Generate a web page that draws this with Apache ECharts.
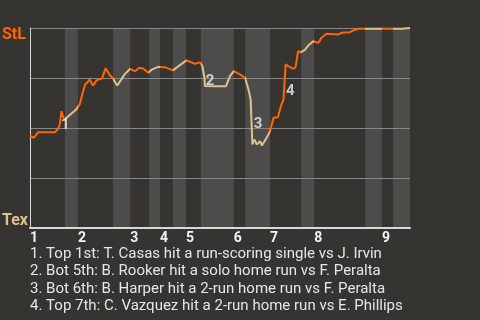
<!DOCTYPE html>
<html><head><meta charset="utf-8">
<script src="https://cdn.jsdelivr.net/npm/echarts@6/dist/echarts.min.js"></script>
<style>html,body{margin:0;padding:0;background:#363431;}#c{width:480px;height:320px;}</style>
</head><body><div id="c"></div>
<script>
// Half-inning start positions (play index), last value = end of game
const halfInningStarts = [0, 8.1, 11.1, 19.2, 23.2, 27.6, 30.1, 33.1, 36.1, 39.6, 47.2, 49.8, 55.6, 62.8, 65.8, 77.6, 81.5, 84.1, 88];
const inningLabels = ['1','2','3','4','5','6','7','8','9'];
// Win probability for StL (%) at each play
const playIndex = [0,0.9,1.9,5.8,6.5,6.9,7.3,7.6,8.0,
  10.7,11.1,
  11.5,12.3,12.8,13.4,13.8,14.6,15.4,15.8,16.7,17.5,18.5,19.2,
  20.2,21.9,23.2,
  24.3,25.3,26.2,27.4,
  28.2,29.7,
  30.1,31.5,33.1,
  36.2,
  38.2,38.6,39.4,
  39.9,40.4,40.5,42.5,45.4,46.3,47.2,
  48.6,49.8,
  50.6,51.1,51.5,52.0,52.5,53.3,53.7,54.8,55.6,
  56.4,57.4,58.1,58.7,59.2,59.8,61.0,61.5,62.1,62.8,
  63.7,64.5,65.6,
  66.8,67.5,68.7,71.4,72.2,74.1,74.9,75.5,76.0,77.6,
  81.5,84.1,86.1,86.1,88];
const winProb = [46.2,45.1,47.9,47.9,49.6,51.8,58.4,55.9,54.2,
  59.2,60.1,
  61.8,68.4,71.8,73.1,74.2,71.2,73.8,74.8,74.8,79.8,76.4,74.8,
  71.2,76.8,79.6,
  78.4,80.1,79.8,77.6,
  79.2,80.6,
  81.5,80.2,78.8,
  83.8,
  82.1,82.6,82.8,
  81.0,75.1,71.0,70.9,70.9,75.9,78.4,
  76.8,75.1,
  69.2,64.2,41.8,44.2,41.8,43.4,41.2,45.1,48.4,
  55.1,55.4,60.9,64.2,81.8,80.9,79.6,80.4,88.4,87.9,
  89.2,91.4,93.4,
  92.6,95.1,97.1,96.8,97.6,97.9,98.8,99.2,99.6,99.6,
  99.6,99.6,99.6,100,100];
// Key event annotations
const eventNumbers = ['1','2','3','4'];
const eventX = [8.2, 41.7, 52.8, 60.3];
const eventY = [51.5, 73.5, 52.0, 68.5];
const eventTexts = [
  '1. Top 1st: T. Casas hit a run-scoring single vs J. Irvin',
  '2. Bot 5th: B. Rooker hit a solo home run vs F. Peralta',
  '3. Bot 6th: B. Harper hit a 2-run home run vs F. Peralta',
  '4. Top 7th: C. Vazquez hit a 2-run home run vs E. Phillips'
];
const teamTop = 'StL', teamBottom = 'Tex';

const ORANGE = '#ff6600', TAN = '#dcc28f', BAND = '#4d4c4a', BG = '#363431';

const lineData = playIndex.map((x, i) => [x, winProb[i]]);
const pieces = [];
const bands = [];
for (let i = 0; i < halfInningStarts.length - 1; i++) {
  pieces.push({gte: halfInningStarts[i], lt: halfInningStarts[i+1] + (i === halfInningStarts.length - 2 ? 1 : 0), color: i % 2 === 0 ? ORANGE : TAN});
  if (i % 2 === 1) bands.push([halfInningStarts[i], halfInningStarts[i+1]]);
}
const inningStarts = halfInningStarts.filter((v, i) => i % 2 === 0 && i < halfInningStarts.length - 1);

const chart = echarts.init(document.getElementById('c'));
chart.setOption({
  backgroundColor: BG,
  animation: false,
  textStyle: {fontFamily: 'Roboto'},
  grid: {left: 30, right: 70, top: 28, bottom: 92},
  xAxis: {
    type: 'value', min: 0, max: 88, z: 2,
    axisLine: {show: true, lineStyle: {color: '#d8d8d8', width: 2}},
    axisTick: {show: false},
    splitLine: {show: false},
    axisLabel: {
      customValues: inningStarts,
      formatter: v => inningLabels[inningStarts.indexOf(v)] || '',
      align: 'left', margin: 3,
      color: '#f2f2f2', fontSize: 14, fontWeight: 'bold', fontFamily: 'Roboto'
    }
  },
  yAxis: {
    type: 'value', min: 0, max: 100, interval: 25, z: 2,
    axisLine: {show: true, lineStyle: {color: '#d8d8d8', width: 1}},
    axisTick: {show: false},
    axisLabel: {show: false},
    splitLine: {show: true, lineStyle: {color: '#8a8886', width: 1}}
  },
  visualMap: {
    show: false, type: 'piecewise', dimension: 0, seriesIndex: 1,
    pieces: pieces
  },
  series: [
    {
      type: 'custom', z: 1, silent: true,
      data: bands,
      renderItem: (params, api) => {
        const p0 = api.coord([api.value(0), 100]);
        const p1 = api.coord([api.value(1), 0]);
        return {type: 'rect', shape: {x: p0[0], y: p0[1], width: p1[0] - p0[0], height: p1[1] - p0[1]}, style: {fill: BAND}};
      }
    },
    {
      type: 'line', z: 3, data: lineData, showSymbol: false, silent: true,
      lineStyle: {width: 2}
    },
    {
      type: 'scatter', z: 4, silent: true, symbolSize: 1,
      itemStyle: {color: 'rgba(0,0,0,0)'},
      data: eventX.map((x, i) => [x, eventY[i], eventNumbers[i]]),
      label: {show: true, position: 'inside', formatter: p => p.value[2],
        color: '#f0f0f0', fontSize: 15, fontWeight: 'bold', fontFamily: 'Roboto'}
    }
  ],
  graphic: [
    {type: 'text', left: 2, top: 27, style: {text: teamTop, fill: ORANGE, font: 'bold 16px Roboto'}},
    {type: 'text', left: 2, top: 213, style: {text: teamBottom, fill: TAN, font: 'bold 16px Roboto'}},
    {type: 'text', left: 30, top: 245, style: {text: eventTexts.join('\n'), fill: '#e6e6e6', font: '15px Roboto', lineHeight: 17.6}}
  ]
});
</script></body></html>
